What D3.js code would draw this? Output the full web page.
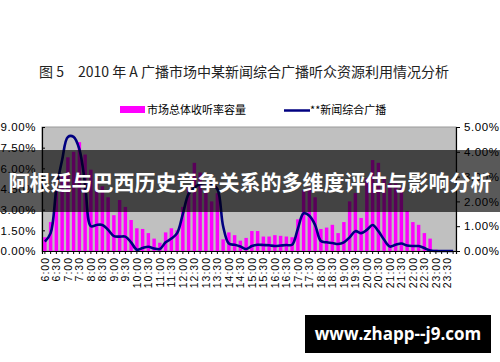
<!DOCTYPE html>
<html>
<head>
<meta charset="utf-8">
<script src="https://cdn.jsdelivr.net/npm/d3@7"></script>
<style>
  body { margin: 0; background: #fff; }
  svg { display: block; }
</style>
</head>
<body>
<div id="chart"></div>
<script>
// 15-minute slots, 6:00 .. 23:45
var slots = [];
for (var h = 6; h < 24; h++) {
    ["00", "15", "30", "45"].forEach(function(m) { slots.push(h + ":" + m); });
}

// 市场总体收听率容量 (left axis, %)
var marketShare = [
    1.0, 2.1, 4.6, 5.6, 6.8, 7.2, 7.9, 7.0,
    5.9, 5.3, 4.7, 3.9, 2.6, 3.7, 3.2, 2.25,
    1.65, 1.6, 1.3, 0.9, 0.6, 1.35, 1.65, 1.5,
    3.2, 4.7, 6.4, 5.7, 4.4, 3.6, 4.2, 0.85,
    1.35, 1.15, 0.75, 0.95, 1.45, 1.45, 1.05, 1.05,
    1.15, 1.1, 1.05, 1.0, 2.3, 4.4, 4.6, 3.9,
    1.6, 1.7, 1.9, 1.3, 2.1, 3.6, 4.2, 2.4,
    5.3, 6.6, 6.4, 5.4, 4.9, 4.9, 4.6, 2.9,
    2.1, 1.9, 1.3, 0.9, 0.1, 0.05, 0.05, 0.0
];

// **新闻综合广播 (right axis, %)
var newsChannel = [
    0.38, 0.72, 2.5, 3.67, 4.6, 4.6, 4.1, 2.7,
    1.0, 1.05, 1.05, 0.85, 0.6, 0.58, 0.58, 0.35,
    0.05, 0.12, 0.17, 0.1, 0.08, 0.35, 0.5, 0.72,
    1.5, 2.3, 2.55, 2.7, 2.73, 2.68, 2.5, 1.0,
    0.3, 0.25, 0.18, 0.08, 0.2, 0.25, 0.24, 0.23,
    0.2, 0.22, 0.24, 0.25, 0.9, 1.52, 1.42, 1.05,
    0.4, 0.35, 0.32, 0.28, 0.35, 0.55, 0.8, 0.72,
    0.85, 1.05, 0.8, 0.45, 0.18, 0.25, 0.3, 0.22,
    0.2, 0.2, 0.12, 0.02, 0, 0, 0, 0
];

var leftTicks = [0, 1.5, 3, 4.5, 6, 7.5, 9];
var rightTicks = [0, 1, 2, 3, 4, 5];

var figTitle = "图 5\u30002010 年 A 广播市场中某新闻综合广播听众资源利用情况分析";
var legendNames = ["市场总体收听率容量", "**新闻综合广播"];
var bannerText = "阿根廷与巴西历史竞争关系的多维度评估与影响分析";
var siteText = "www.zhapp--j9.com";

var width = 500, height = 362;
var plot = {left: 42, right: 456, top: 127, bottom: 251};

var svg = d3.select("#chart").append("svg")
    .attr("width", width)
    .attr("height", height);

svg.append("rect").attr("width", width).attr("height", height).attr("fill", "#fff");

// title
svg.append("text")
    .attr("x", 244).attr("y", 77)
    .attr("text-anchor", "middle")
    .style("font-family", "'Noto Sans CJK SC', sans-serif")
    .style("font-size", "14px")
    .attr("fill", "#222")
    .text(figTitle);

// legend
svg.append("rect").attr("x", 120).attr("y", 106).attr("width", 25).attr("height", 7).attr("fill", "#ff00ff");
svg.append("text").attr("x", 147).attr("y", 114)
    .style("font-family", "'Noto Sans CJK SC', sans-serif").style("font-size", "11px")
    .attr("fill", "#000").text(legendNames[0]);
svg.append("line").attr("x1", 284).attr("x2", 310).attr("y1", 110.5).attr("y2", 110.5)
    .attr("stroke", "#000080").attr("stroke-width", 2.5);
svg.append("text").attr("x", 310).attr("y", 114)
    .style("font-family", "'Noto Sans CJK SC', sans-serif").style("font-size", "11px")
    .attr("fill", "#000").text(legendNames[1]);

// scales
var xc = d3.scaleBand().domain(slots).range([plot.left, plot.right]);

var yLeft = d3.scaleLinear().domain([0, 9]).range([plot.bottom, plot.top]);
var yRight = d3.scaleLinear().domain([0, 5]).range([plot.bottom, plot.top]);

// plot area
svg.append("rect")
    .attr("x", plot.left).attr("y", plot.top)
    .attr("width", plot.right - plot.left).attr("height", plot.bottom - plot.top)
    .attr("fill", "#c0c0c0")
    .attr("stroke", "#9a9a9a").attr("stroke-width", 1);

// bars
svg.append("g").selectAll("rect")
    .data(marketShare)
    .enter().append("rect")
        .attr("x", function(d, i) { return xc(slots[i]) + xc.bandwidth() * 0.2; })
        .attr("width", xc.bandwidth() * 0.6)
        .attr("y", function(d) { return yLeft(d); })
        .attr("height", function(d) { return plot.bottom - yLeft(d); })
        .attr("fill", "#ff00ff");

// line
var line = d3.line()
    .x(function(d, i) { return xc(slots[i]) + xc.bandwidth() / 2; })
    .y(function(d) { return yRight(d); })
    .curve(d3.curveCatmullRom.alpha(0.5));

svg.append("path")
    .datum(newsChannel)
    .attr("d", line)
    .attr("fill", "none")
    .attr("stroke", "#000080")
    .attr("stroke-width", 2.6)
    .attr("stroke-linejoin", "round");

// axes
var fmt = d3.format(".2f");
var axisL = svg.append("g")
    .attr("transform", "translate(" + plot.left + ",0)")
    .call(d3.axisLeft(yLeft).tickValues(leftTicks).tickSize(-3).tickPadding(6)
        .tickFormat(function(d) { return fmt(d) + "%"; }));
var axisR = svg.append("g")
    .attr("transform", "translate(" + plot.right + ",0)")
    .call(d3.axisRight(yRight).tickValues(rightTicks).tickSize(4).tickPadding(4)
        .tickFormat(function(d) { return fmt(d) + "%"; }));
var axisB = svg.append("g")
    .attr("transform", "translate(0," + plot.bottom + ")")
    .call(d3.axisBottom(xc).tickSize(3).tickPadding(4)
        .tickFormat(function(d, i) { return i % 2 == 0 ? d : ""; }));

[axisL, axisR, axisB].forEach(function(a) {
    a.select(".domain").attr("stroke", "#000").attr("stroke-width", 1.2);
    a.selectAll(".tick line").attr("stroke", "#000");
    a.selectAll("text")
        .attr("fill", "#000")
        .style("font-family", "'Liberation Sans', Arial, sans-serif")
        .style("font-size", "11.5px")
        .style("letter-spacing", "0.6px");
});

axisB.selectAll("text")
    .style("font-size", "10.5px")
    .style("letter-spacing", "1px")
    .attr("text-anchor", "end")
    .attr("transform", "rotate(-90)")
    .attr("x", -6).attr("y", 0).attr("dy", "0.35em");

// overlay banner
svg.append("rect")
    .attr("x", 0).attr("y", 150).attr("width", width).attr("height", 62)
    .attr("fill", "#000").attr("fill-opacity", 0.65);
svg.append("text")
    .attr("x", width / 2).attr("y", 190)
    .attr("text-anchor", "middle")
    .style("font-family", "'Noto Sans CJK SC', sans-serif")
    .style("font-size", "21px").style("font-weight", "bold")
    .attr("fill", "#fff")
    .text(bannerText);

// site badge
svg.append("rect").attr("x", 305).attr("y", 315).attr("width", 186).attr("height", 38).attr("fill", "#000");
svg.append("text")
    .attr("x", 398).attr("y", 340)
    .attr("text-anchor", "middle")
    .style("font-family", "'Open Sans', 'DejaVu Sans', sans-serif")
    .style("font-size", "17px").style("font-weight", "bold")
    .attr("fill", "#fff")
    .text(siteText);
</script>
</body>
</html>
